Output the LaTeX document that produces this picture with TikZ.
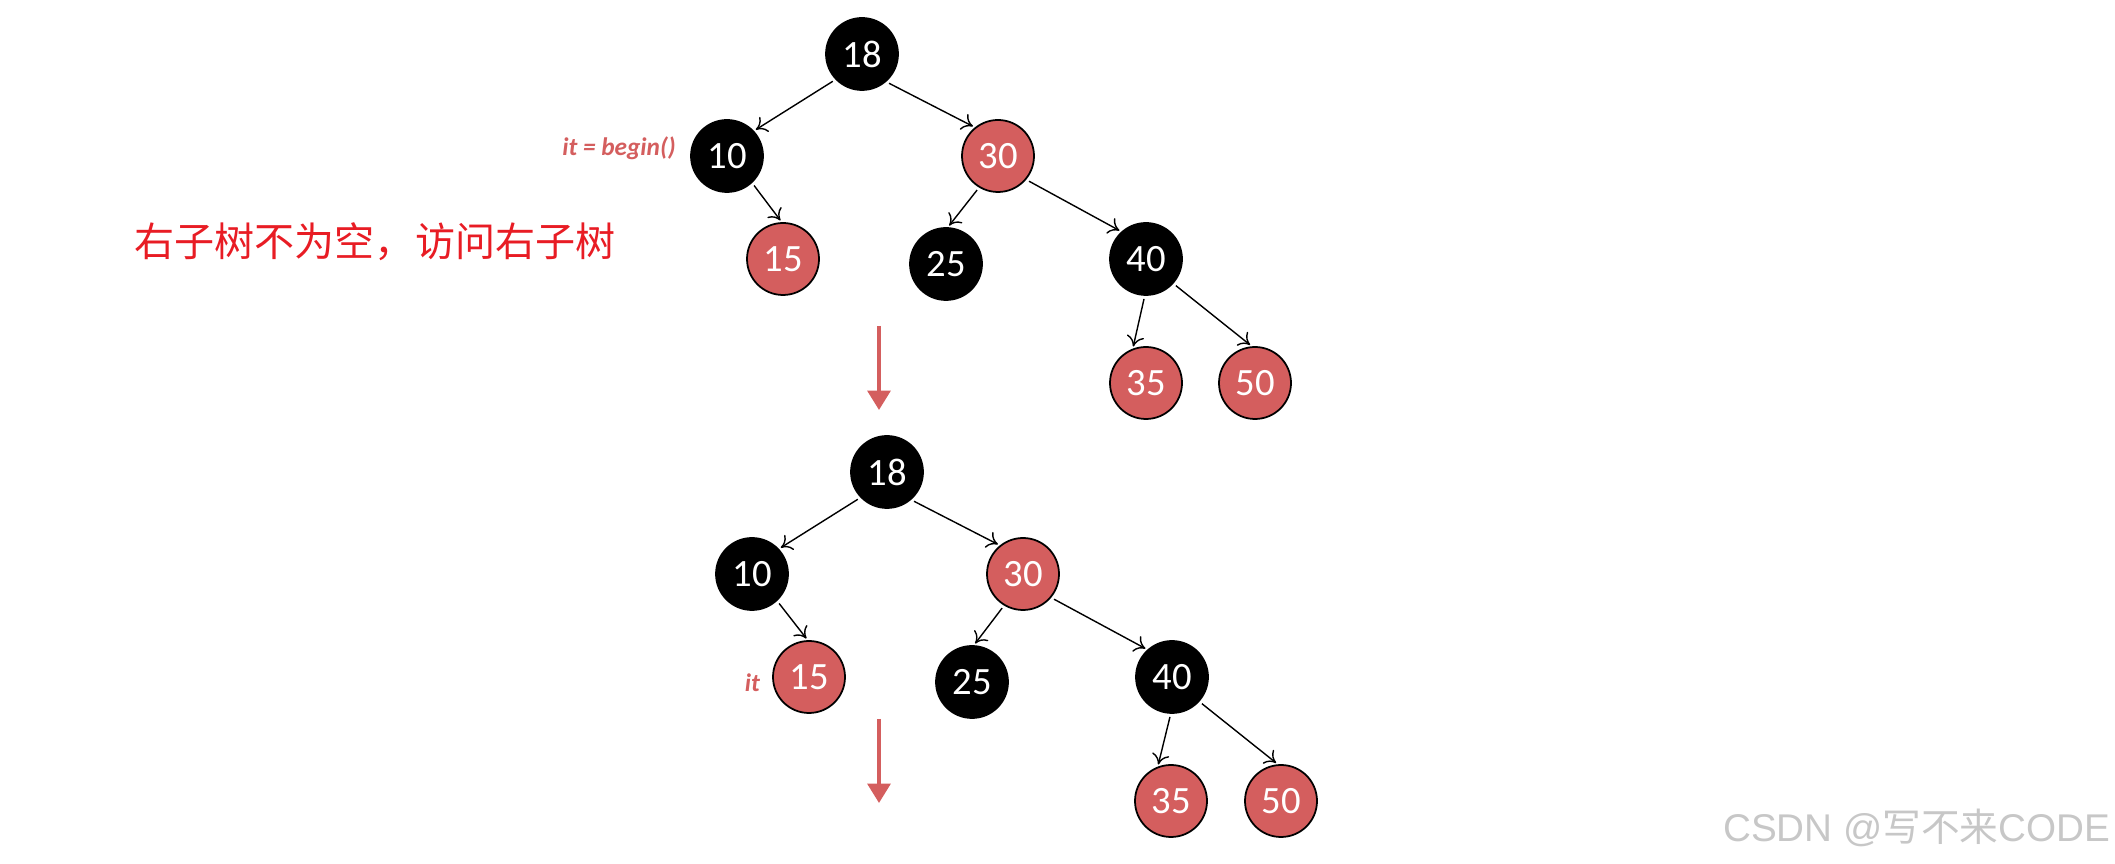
\documentclass[tikz,border=0pt]{standalone}
\usepackage{fontspec}
\setmainfont{Carlito}
\newfontfamily\cjk{Noto Sans CJK SC}
\newfontfamily\wmfont{Liberation Sans}
\usetikzlibrary{arrows.meta}
\definecolor{nodered}{RGB}{212,94,94}
\definecolor{txtred}{RGB}{232,28,36}

\begin{document}
\begin{tikzpicture}[
  font=\fontsize{11}{12}\selectfont,
  nd/.style={circle, draw=black, line width=0.5pt, minimum size=0.72cm, inner sep=0pt, text=white, fill=#1},
  bn/.style={nd=black},
  rn/.style={nd=nodered},
  lnk/.style={-{To[length=3pt,width=5pt]}, line width=0.4pt, shorten <=0.9pt, shorten >=0.6pt},
  bigarr/.style={-{Triangle[width=6.5pt,length=5.5pt]}, line width=1pt, draw=nodered},
  itlbl/.style={font=\fontsize{7.2}{10}\selectfont\bfseries\itshape, text=nodered, inner sep=1pt},
]
\useasboundingbox (0,0) rectangle (21.15,-8.64);
% ================= caption =================
\node[font=\cjk\fontsize{11.4}{13}\selectfont, text=txtred] (cap) at (3.75,-2.42) {右子树不为空，访问右子树};
% ================= tree before =================
\node[bn] (a18) at (8.62,-0.54) {18};
\node[bn] (a10) at (7.27,-1.56) {10};
\node[rn] (a30) at (9.98,-1.56) {30};
\node[rn] (a15) at (7.83,-2.59) {15};
\node[bn] (a25) at (9.46,-2.64) {25};
\node[bn] (a40) at (11.46,-2.59) {40};
\node[rn] (a35) at (11.46,-3.83) {35};
\node[rn] (a50) at (12.55,-3.83) {50};
\node[itlbl, anchor=east] (abeg) at (6.80,-1.48) {it = begin()};
\draw[lnk] (a18.-136) -- (a10.43);
\draw[lnk] (a18.-49) -- (a30.129);
\draw[lnk] (a10.-47) -- (a15.92);
\draw[lnk] (a30.-121) -- (a25.87);
\draw[lnk] (a30.-40) -- (a40.132);
\draw[lnk] (a40.-92) -- (a35.111);
\draw[lnk] (a40.-42) -- (a50.95);
% step arrow
\coordinate (s1) at (8.79,-3.26);
\coordinate (e1) at (8.79,-4.10);
\draw[bigarr] (s1) -- (e1);
% ================= tree after =================
\node[bn] (b18) at (8.87,-4.72) {18};
\node[bn] (b10) at (7.52,-5.74) {10};
\node[rn] (b30) at (10.23,-5.74) {30};
\node[rn] (b15) at (8.09,-6.77) {15};
\node[bn] (b25) at (9.72,-6.82) {25};
\node[bn] (b40) at (11.72,-6.77) {40};
\node[rn] (b35) at (11.71,-8.01) {35};
\node[rn] (b50) at (12.81,-8.01) {50};
\node[itlbl, anchor=east] (bit) at (7.64,-6.83) {it};
\draw[lnk] (b18.-136) -- (b10.43);
\draw[lnk] (b18.-49) -- (b30.129);
\draw[lnk] (b10.-47) -- (b15.92);
\draw[lnk] (b30.-121) -- (b25.87);
\draw[lnk] (b30.-40) -- (b40.132);
\draw[lnk] (b40.-92) -- (b35.111);
\draw[lnk] (b40.-42) -- (b50.95);
% step arrow
\coordinate (s2) at (8.79,-7.19);
\coordinate (e2) at (8.79,-8.03);
\draw[bigarr] (s2) -- (e2);
% watermark
\node[anchor=east, text=black!22, font=\fontsize{11}{13}\selectfont, inner sep=0pt] (wm) at (21.11,-8.28) {\wmfont CSDN @\cjk 写不来\wmfont CODE};
\end{tikzpicture}
\end{document}
